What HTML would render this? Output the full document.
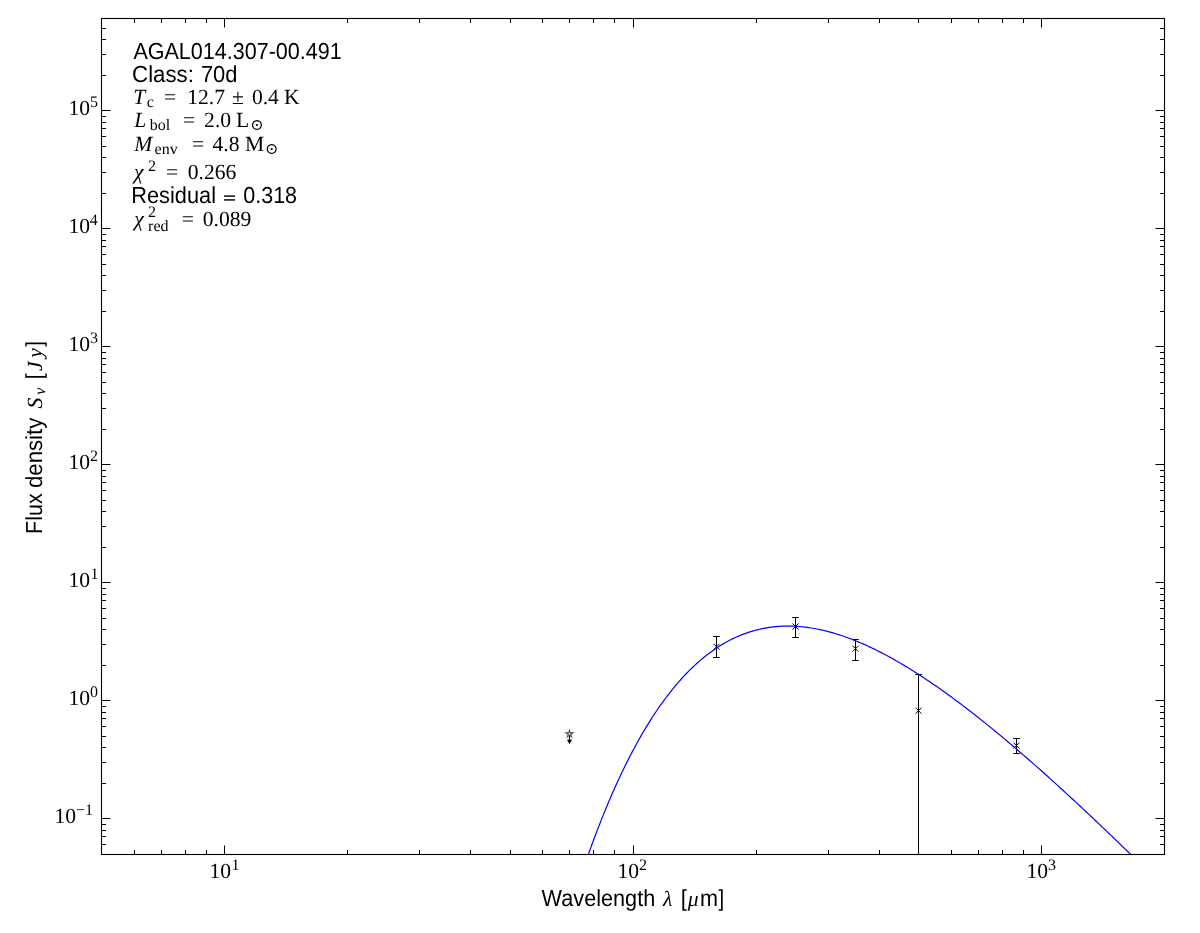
<!DOCTYPE html>
<html lang="en"><head><meta charset="utf-8"><title>AGAL014.307-00.491 SED fit</title>
<style>
html,body{margin:0;padding:0;background:#fff;}
svg{display:block;will-change:transform;}
text{font-family:"Liberation Sans",sans-serif;fill:#000;font-size:22.2px;text-rendering:geometricPrecision;}
text.s{font-family:"Liberation Serif","DejaVu Serif","DejaVu Sans",serif;font-size:21.6px;}
text.sub{font-family:"Liberation Serif","DejaVu Serif","DejaVu Sans",serif;font-size:16px;}
text.i{font-style:italic;}
.m{fill:#000;stroke:#000;stroke-linejoin:round;}
</style></head>
<body>
<svg width="1200" height="933" viewBox="0 0 1200 933">
<rect width="1200" height="933" fill="#fff"/>
<defs><clipPath id="ax"><rect x="101.5" y="18.5" width="1063.0" height="836.0"/></clipPath></defs>
<g stroke="#000" stroke-width="1" fill="none" clip-path="url(#ax)">
<path d="M716.5 636.5V657.5"/>
<path d="M713.20 636.5h6.6"/>
<path d="M713.20 657.5h6.6"/>
<path stroke-width="1" d="M713.5 643.8l6 6M713.5 649.8l6 -6"/>
<path d="M795.5 617.5V637.5"/>
<path d="M792.20 617.5h6.6"/>
<path d="M792.20 637.5h6.6"/>
<path stroke-width="1" d="M792.5 623.5l6 6M792.5 629.5l6 -6"/>
<path d="M855.5 639.5V660.5"/>
<path d="M852.20 639.5h6.6"/>
<path d="M852.20 660.5h6.6"/>
<path stroke-width="1" d="M852.5 645.7l6 6M852.5 651.7l6 -6"/>
<path d="M918.5 674.5V870.0"/>
<path d="M915.20 674.5h6.6"/>
<path stroke-width="1" d="M915.5 707.7l6 6M915.5 713.7l6 -6"/>
<path d="M1016.5 738.5V753.5"/>
<path d="M1013.20 738.5h6.6"/>
<path d="M1013.20 753.5h6.6"/>
<path stroke-width="1" d="M1013.5 742.6l6 6M1013.5 748.6l6 -6"/>
</g>
<path d="M569.5 733.9V740.5" stroke="#000" stroke-width="1.1" fill="none"/>
<path d="M567.00 739.8h5l-2.5 4.4z" fill="#000"/>
<polygon points="569.50,730.10 570.26,732.85 573.11,732.73 570.74,734.30 571.73,736.97 569.50,735.20 567.27,736.97 568.26,734.30 565.89,732.73 568.74,732.85" fill="#fff" stroke="#505050" stroke-width="1.05" stroke-linejoin="miter"/>
<polyline clip-path="url(#ax)" fill="none" stroke="#0000ff" stroke-width="1.2" stroke-linejoin="round" points="569.47,911.98 570.87,907.41 572.26,902.89 573.66,898.43 575.06,894.01 576.46,889.65 577.86,885.33 579.25,881.06 580.65,876.84 582.05,872.67 583.45,868.55 584.84,864.47 586.24,860.44 587.64,856.46 589.04,852.52 590.44,848.63 591.83,844.79 593.23,840.99 594.63,837.23 596.03,833.52 597.43,829.86 598.82,826.24 600.22,822.66 601.62,819.12 603.02,815.63 604.41,812.18 605.81,808.77 607.21,805.41 608.61,802.08 610.01,798.80 611.40,795.56 612.80,792.35 614.20,789.19 615.60,786.07 616.99,782.99 618.39,779.94 619.79,776.94 621.19,773.97 622.59,771.04 623.98,768.16 625.38,765.30 626.78,762.49 628.18,759.71 629.57,756.97 630.97,754.27 632.37,751.60 633.77,748.97 635.17,746.37 636.56,743.81 637.96,741.29 639.36,738.80 640.76,736.34 642.15,733.92 643.55,731.53 644.95,729.18 646.35,726.86 647.75,724.57 649.14,722.32 650.54,720.09 651.94,717.91 653.34,715.75 654.74,713.62 656.13,711.53 657.53,709.47 658.93,707.44 660.33,705.44 661.72,703.47 663.12,701.53 664.52,699.63 665.92,697.75 667.32,695.90 668.71,694.08 670.11,692.29 671.51,690.53 672.91,688.80 674.30,687.10 675.70,685.42 677.10,683.78 678.50,682.16 679.90,680.57 681.29,679.01 682.69,677.47 684.09,675.96 685.49,674.48 686.88,673.02 688.28,671.59 689.68,670.19 691.08,668.81 692.48,667.46 693.87,666.14 695.27,664.84 696.67,663.56 698.07,662.31 699.46,661.09 700.86,659.89 702.26,658.71 703.66,657.56 705.06,656.43 706.45,655.33 707.85,654.25 709.25,653.19 710.65,652.16 712.05,651.15 713.44,650.16 714.84,649.19 716.24,648.25 717.64,647.33 719.03,646.43 720.43,645.56 721.83,644.70 723.23,643.87 724.63,643.06 726.02,642.27 727.42,641.50 728.82,640.75 730.22,640.02 731.61,639.32 733.01,638.63 734.41,637.96 735.81,637.32 737.21,636.69 738.60,636.08 740.00,635.50 741.40,634.93 742.80,634.38 744.19,633.85 745.59,633.34 746.99,632.85 748.39,632.37 749.79,631.92 751.18,631.48 752.58,631.07 753.98,630.67 755.38,630.28 756.78,629.92 758.17,629.57 759.57,629.24 760.97,628.93 762.37,628.63 763.76,628.36 765.16,628.09 766.56,627.85 767.96,627.62 769.36,627.41 770.75,627.21 772.15,627.03 773.55,626.87 774.95,626.72 776.34,626.59 777.74,626.47 779.14,626.37 780.54,626.29 781.94,626.21 783.33,626.16 784.73,626.12 786.13,626.09 787.53,626.08 788.92,626.08 790.32,626.10 791.72,626.13 793.12,626.18 794.52,626.24 795.91,626.31 797.31,626.40 798.71,626.50 800.11,626.61 801.50,626.74 802.90,626.88 804.30,627.04 805.70,627.20 807.10,627.38 808.49,627.58 809.89,627.78 811.29,628.00 812.69,628.23 814.09,628.48 815.48,628.73 816.88,629.00 818.28,629.28 819.68,629.57 821.07,629.87 822.47,630.19 823.87,630.51 825.27,630.85 826.67,631.20 828.06,631.56 829.46,631.93 830.86,632.31 832.26,632.70 833.65,633.11 835.05,633.52 836.45,633.95 837.85,634.38 839.25,634.83 840.64,635.29 842.04,635.75 843.44,636.23 844.84,636.72 846.23,637.21 847.63,637.72 849.03,638.24 850.43,638.76 851.83,639.30 853.22,639.84 854.62,640.40 856.02,640.96 857.42,641.54 858.81,642.12 860.21,642.71 861.61,643.31 863.01,643.92 864.41,644.54 865.80,645.16 867.20,645.80 868.60,646.44 870.00,647.09 871.40,647.75 872.79,648.42 874.19,649.10 875.59,649.78 876.99,650.47 878.38,651.17 879.78,651.88 881.18,652.60 882.58,653.32 883.98,654.06 885.37,654.79 886.77,655.54 888.17,656.29 889.57,657.06 890.96,657.82 892.36,658.60 893.76,659.38 895.16,660.17 896.56,660.97 897.95,661.77 899.35,662.59 900.75,663.40 902.15,664.23 903.54,665.06 904.94,665.89 906.34,666.74 907.74,667.59 909.14,668.45 910.53,669.31 911.93,670.18 913.33,671.05 914.73,671.93 916.12,672.82 917.52,673.72 918.92,674.62 920.32,675.52 921.72,676.43 923.11,677.35 924.51,678.27 925.91,679.20 927.31,680.13 928.71,681.07 930.10,682.02 931.50,682.97 932.90,683.92 934.30,684.89 935.69,685.85 937.09,686.82 938.49,687.80 939.89,688.78 941.29,689.77 942.68,690.76 944.08,691.76 945.48,692.76 946.88,693.76 948.27,694.78 949.67,695.79 951.07,696.81 952.47,697.84 953.87,698.87 955.26,699.90 956.66,700.94 958.06,701.99 959.46,703.03 960.85,704.09 962.25,705.14 963.65,706.20 965.05,707.27 966.45,708.34 967.84,709.41 969.24,710.49 970.64,711.57 972.04,712.66 973.43,713.75 974.83,714.84 976.23,715.94 977.63,717.04 979.03,718.15 980.42,719.26 981.82,720.37 983.22,721.49 984.62,722.61 986.02,723.73 987.41,724.86 988.81,725.99 990.21,727.12 991.61,728.26 993.00,729.40 994.40,730.55 995.80,731.70 997.20,732.85 998.60,734.01 999.99,735.16 1001.39,736.33 1002.79,737.49 1004.19,738.66 1005.58,739.83 1006.98,741.01 1008.38,742.19 1009.78,743.37 1011.18,744.55 1012.57,745.74 1013.97,746.93 1015.37,748.12 1016.77,749.32 1018.16,750.52 1019.56,751.72 1020.96,752.92 1022.36,754.13 1023.76,755.34 1025.15,756.55 1026.55,757.77 1027.95,758.99 1029.35,760.21 1030.74,761.43 1032.14,762.66 1033.54,763.89 1034.94,765.12 1036.34,766.35 1037.73,767.59 1039.13,768.83 1040.53,770.07 1041.93,771.31 1043.33,772.56 1044.72,773.81 1046.12,775.06 1047.52,776.31 1048.92,777.57 1050.31,778.83 1051.71,780.09 1053.11,781.35 1054.51,782.62 1055.91,783.89 1057.30,785.15 1058.70,786.43 1060.10,787.70 1061.50,788.98 1062.89,790.25 1064.29,791.54 1065.69,792.82 1067.09,794.10 1068.49,795.39 1069.88,796.68 1071.28,797.97 1072.68,799.26 1074.08,800.55 1075.47,801.85 1076.87,803.15 1078.27,804.45 1079.67,805.75 1081.07,807.06 1082.46,808.36 1083.86,809.67 1085.26,810.98 1086.66,812.29 1088.05,813.60 1089.45,814.92 1090.85,816.23 1092.25,817.55 1093.65,818.87 1095.04,820.20 1096.44,821.52 1097.84,822.84 1099.24,824.17 1100.64,825.50 1102.03,826.83 1103.43,828.16 1104.83,829.49 1106.23,830.83 1107.62,832.17 1109.02,833.50 1110.42,834.84 1111.82,836.18 1113.22,837.53 1114.61,838.87 1116.01,840.22 1117.41,841.56 1118.81,842.91 1120.20,844.26 1121.60,845.61 1123.00,846.97 1124.40,848.32 1125.80,849.67 1127.19,851.03 1128.59,852.39 1129.99,853.75 1131.39,855.11 1132.78,856.47 1134.18,857.84 1135.58,859.20 1136.98,860.57 1138.38,861.93 1139.77,863.30 1141.17,864.67 1142.57,866.04 1143.97,867.42 1145.36,868.79 1146.76,870.16 1148.16,871.54 1149.56,872.92 1150.96,874.30 1152.35,875.67 1153.75,877.06 1155.15,878.44"/>
<path d="M134.5 854.5v-4.5M134.5 18.5v4.5M161.5 854.5v-4.5M161.5 18.5v4.5M185.5 854.5v-4.5M185.5 18.5v4.5M206.5 854.5v-4.5M206.5 18.5v4.5M224.5 854.5v-9.0M224.5 18.5v9.0M347.5 854.5v-4.5M347.5 18.5v4.5M419.5 854.5v-4.5M419.5 18.5v4.5M470.5 854.5v-4.5M470.5 18.5v4.5M510.5 854.5v-4.5M510.5 18.5v4.5M542.5 854.5v-4.5M542.5 18.5v4.5M569.5 854.5v-4.5M569.5 18.5v4.5M593.5 854.5v-4.5M593.5 18.5v4.5M614.5 854.5v-4.5M614.5 18.5v4.5M633.5 854.5v-9.0M633.5 18.5v9.0M756.5 854.5v-4.5M756.5 18.5v4.5M828.5 854.5v-4.5M828.5 18.5v4.5M879.5 854.5v-4.5M879.5 18.5v4.5M918.5 854.5v-4.5M918.5 18.5v4.5M951.5 854.5v-4.5M951.5 18.5v4.5M978.5 854.5v-4.5M978.5 18.5v4.5M1002.5 854.5v-4.5M1002.5 18.5v4.5M1023.5 854.5v-4.5M1023.5 18.5v4.5M1041.5 854.5v-9.0M1041.5 18.5v9.0M101.5 844.5h4.5M1164.5 844.5h-4.5M101.5 836.5h4.5M1164.5 836.5h-4.5M101.5 830.5h4.5M1164.5 830.5h-4.5M101.5 824.5h4.5M1164.5 824.5h-4.5M101.5 818.5h9.0M1164.5 818.5h-9.0M101.5 783.5h4.5M1164.5 783.5h-4.5M101.5 762.5h4.5M1164.5 762.5h-4.5M101.5 747.5h4.5M1164.5 747.5h-4.5M101.5 736.5h4.5M1164.5 736.5h-4.5M101.5 726.5h4.5M1164.5 726.5h-4.5M101.5 718.5h4.5M1164.5 718.5h-4.5M101.5 712.5h4.5M1164.5 712.5h-4.5M101.5 706.5h4.5M1164.5 706.5h-4.5M101.5 700.5h9.0M1164.5 700.5h-9.0M101.5 665.5h4.5M1164.5 665.5h-4.5M101.5 644.5h4.5M1164.5 644.5h-4.5M101.5 629.5h4.5M1164.5 629.5h-4.5M101.5 618.5h4.5M1164.5 618.5h-4.5M101.5 608.5h4.5M1164.5 608.5h-4.5M101.5 600.5h4.5M1164.5 600.5h-4.5M101.5 594.5h4.5M1164.5 594.5h-4.5M101.5 588.5h4.5M1164.5 588.5h-4.5M101.5 582.5h9.0M1164.5 582.5h-9.0M101.5 547.5h4.5M1164.5 547.5h-4.5M101.5 526.5h4.5M1164.5 526.5h-4.5M101.5 511.5h4.5M1164.5 511.5h-4.5M101.5 500.5h4.5M1164.5 500.5h-4.5M101.5 490.5h4.5M1164.5 490.5h-4.5M101.5 482.5h4.5M1164.5 482.5h-4.5M101.5 476.5h4.5M1164.5 476.5h-4.5M101.5 470.5h4.5M1164.5 470.5h-4.5M101.5 464.5h9.0M1164.5 464.5h-9.0M101.5 429.5h4.5M1164.5 429.5h-4.5M101.5 408.5h4.5M1164.5 408.5h-4.5M101.5 393.5h4.5M1164.5 393.5h-4.5M101.5 382.5h4.5M1164.5 382.5h-4.5M101.5 372.5h4.5M1164.5 372.5h-4.5M101.5 364.5h4.5M1164.5 364.5h-4.5M101.5 358.5h4.5M1164.5 358.5h-4.5M101.5 352.5h4.5M1164.5 352.5h-4.5M101.5 346.5h9.0M1164.5 346.5h-9.0M101.5 311.5h4.5M1164.5 311.5h-4.5M101.5 290.5h4.5M1164.5 290.5h-4.5M101.5 275.5h4.5M1164.5 275.5h-4.5M101.5 264.5h4.5M1164.5 264.5h-4.5M101.5 254.5h4.5M1164.5 254.5h-4.5M101.5 246.5h4.5M1164.5 246.5h-4.5M101.5 240.5h4.5M1164.5 240.5h-4.5M101.5 234.5h4.5M1164.5 234.5h-4.5M101.5 228.5h9.0M1164.5 228.5h-9.0M101.5 193.5h4.5M1164.5 193.5h-4.5M101.5 172.5h4.5M1164.5 172.5h-4.5M101.5 157.5h4.5M1164.5 157.5h-4.5M101.5 146.5h4.5M1164.5 146.5h-4.5M101.5 136.5h4.5M1164.5 136.5h-4.5M101.5 128.5h4.5M1164.5 128.5h-4.5M101.5 122.5h4.5M1164.5 122.5h-4.5M101.5 116.5h4.5M1164.5 116.5h-4.5M101.5 110.5h9.0M1164.5 110.5h-9.0M101.5 75.5h4.5M1164.5 75.5h-4.5M101.5 54.5h4.5M1164.5 54.5h-4.5M101.5 39.5h4.5M1164.5 39.5h-4.5M101.5 28.5h4.5M1164.5 28.5h-4.5" stroke="#000" stroke-width="1" fill="none"/>
<rect x="101.5" y="18.5" width="1063.0" height="836.0" fill="none" stroke="#000" stroke-width="1.1"/>
<g aria-label="tick labels">
<text class="s" x="209.5" y="878">10</text>
<text class="sub" x="231.5" y="869.6">1</text>
<text class="s" x="617.4" y="878">10</text>
<text class="sub" x="639" y="869.6">2</text>
<text class="s" x="1026.5" y="878">10</text>
<text class="sub" x="1048" y="869.6">3</text>
<text class="s" x="68.5" y="114.9">10</text>
<text class="sub" x="90.1" y="106.5">5</text>
<text class="s" x="68.5" y="232.9">10</text>
<text class="sub" x="89.8" y="224.5">4</text>
<text class="s" x="68.5" y="350.9">10</text>
<text class="sub" x="90" y="342.5">3</text>
<text class="s" x="68.5" y="468.9">10</text>
<text class="sub" x="90.1" y="460.5">2</text>
<text class="s" x="68.5" y="586.9">10</text>
<text class="sub" x="90.5" y="578.5">1</text>
<text class="s" x="68.5" y="704.9">10</text>
<text class="sub" x="89.9" y="696.5">0</text>
<text class="s" x="54.4" y="822.9">10</text>
<text class="sub" x="76" y="814.5">−1</text>
</g>
<text transform="translate(133.40 59.00) scale(0.9703 1.045)">AGAL014.307-00.491</text>
<text transform="translate(132.10 82.30) scale(1.0009 1.045)">Class:</text>
<text transform="translate(200.91 82.30) scale(0.9871 1.045)">70d</text>
<g role="img" aria-label="T_c = 12.7 ± 0.4 K">
<text class="s i" x="133.2" y="104.05">T</text>
<text class="sub" x="146.8" y="106.85">c</text>
<text class="s" x="164" y="104.05">=</text>
<text class="s" x="187.2" y="104.05">12.7</text>
<text class="s" x="232" y="104.05">±</text>
<text class="s" x="251.9" y="104.05">0.4</text>
<text class="s" x="284.1" y="104.05">K</text>
</g>
<g role="img" aria-label="L_bol = 2.0 L_sun">
<text class="s i" x="134.2" y="127">L</text>
<text class="sub" x="149.7" y="130.1">bol</text>
<text class="s" x="183.1" y="127">=</text>
<text class="s" x="204.1" y="127">2.0</text>
<text class="s" x="235.9" y="127">L</text>
<text class="sub" x="250.2" y="130.1">⊙</text>
</g>
<g role="img" aria-label="M_env = 4.8 M_sun">
<text class="s i" x="134.3" y="150.7">M</text>
<text class="sub" x="154.6" y="153.8">env</text>
<text class="s" x="192.1" y="150.7">=</text>
<text class="s" x="212.5" y="150.7">4.8</text>
<text class="s" x="244.9" y="150.7">M</text>
<text class="sub" x="265" y="153.8">⊙</text>
</g>
<g role="img" aria-label="chi^2 = 0.266">
<text class="s i" x="134" y="179.3">χ</text>
<text class="sub" x="148" y="171">2</text>
<text class="s" x="166.1" y="179.3">=</text>
<text class="s" x="187.7" y="179.3">0.266</text>
</g>
<text transform="translate(131.28 202.70) scale(0.9814 1.045)">Residual</text>
<text transform="translate(223.18 203.0) scale(0.9750 0.683)" stroke="#000" stroke-width="0.5">=</text>
<text transform="translate(243.27 202.70) scale(0.9685 1.045)">0.318</text>
<g role="img" aria-label="chi^2_red = 0.089">
<text class="s i" x="134.3" y="225.5">χ</text>
<text class="sub" x="148.1" y="217.2">2</text>
<text class="sub" x="148.1" y="231">red</text>
<text class="s" x="181.7" y="225.5">=</text>
<text class="s" x="202.7" y="225.5">0.089</text>
</g>
<text transform="translate(541.60 905.60) scale(0.9765 1.045)">Wavelength</text>
<text class="s i" x="663" y="905.6">λ</text>
<text transform="translate(680.80 905.60) scale(1.0000 1.045)">[</text>
<text class="s i" x="687.8" y="905.6">μ</text>
<text transform="translate(699.99 905.60) scale(0.9746 1.045)">m</text>
<text transform="translate(718.50 905.60) scale(0.9263 1.045)">]</text>
<g transform="translate(41.7 0) rotate(-90)">
<text transform="translate(-533.89 0.00) scale(0.9686 1.045)">Flux</text>
<text transform="translate(-487.95 0.00) scale(0.9986 1.045)">density</text>
<text class="s i" x="-408.6" y="0">S</text>
<text class="sub i" x="-394.7" y="3.1">ν</text>
<text transform="translate(-379.23 0.00) scale(0.9556 1.045)">[</text>
<text class="s i" x="-371.1" y="0">J</text>
<text class="s i" x="-357.7" y="0">y</text>
<text transform="translate(-346.70 0.00) scale(0.9474 1.045)">]</text>
</g>
</svg>
</body></html>
